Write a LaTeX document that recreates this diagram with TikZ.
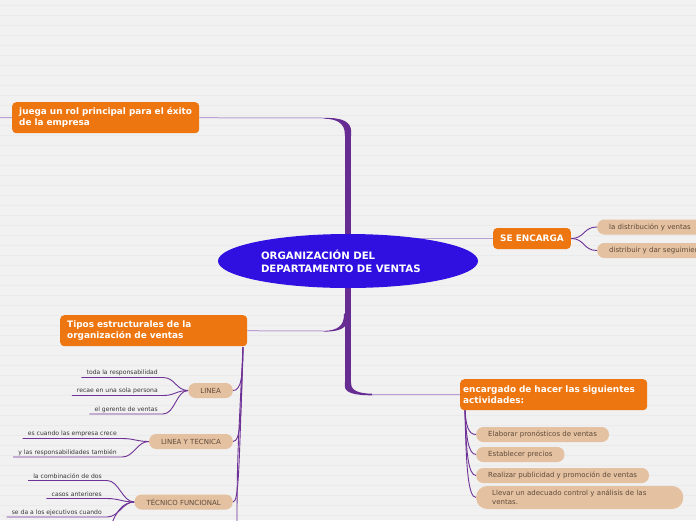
\documentclass[tikz,border=0pt]{standalone}
\usepackage{fontspec}
\setmainfont{DejaVu Sans}
\usetikzlibrary{shapes.geometric}
\pgfdeclarelayer{paper}
\pgfdeclarelayer{wires}
\pgfsetlayers{paper,wires,main}

\begin{document}
\begin{tikzpicture}[x=1pt, y=-1pt,
  topic/.style={fill=topicfill, text=white, rounded corners=4pt, anchor=north west,
    font=\fontsize{8.9}{11}\selectfont\bfseries, align=left, text width=173pt,
    inner xsep=7pt, inner ysep=0pt, minimum height=31pt},
  tag/.style={fill=topicfill, text=white, rounded corners=4pt, anchor=west,
    font=\fontsize{8.9}{11}\selectfont\bfseries, inner xsep=7pt, minimum height=21pt},
  hub/.style={ellipse, fill=hubfill, text=white, minimum width=260pt, minimum height=54pt,
    font=\fontsize{10.2}{13}\selectfont\bfseries, align=left, text width=174pt, inner sep=0pt},
  pill/.style={fill=pillfill, text=pilltext, rounded corners=7pt, minimum height=15pt,
    inner xsep=12pt, inner ysep=0pt, font=\fontsize{7}{9}\selectfont},
  leaf/.style={text=leaftext, anchor=south east, inner xsep=5pt, inner ysep=1.5pt,
    font=\fontsize{6.1}{7}\selectfont},
  trunk/.style={draw=trunkcol, line width=6.5pt},
  twig/.style={draw=twigcol, line width=1pt},
  vine/.style={draw=vinecol, line width=0.9pt}]
\definecolor{paperbg}{RGB}{241,241,241}
\definecolor{stripe}{RGB}{234,234,234}
\definecolor{topicfill}{RGB}{238,118,17}
\definecolor{hubfill}{RGB}{48,16,224}
\definecolor{pillfill}{RGB}{228,193,160}
\definecolor{pilltext}{RGB}{95,75,60}
\definecolor{leaftext}{RGB}{55,55,55}
\definecolor{trunkcol}{RGB}{102,44,145}
\definecolor{twigcol}{RGB}{185,160,210}
\definecolor{vinecol}{RGB}{110,50,150}

\useasboundingbox (0,0) rectangle (696,520);

% ---- PAPER ----
\begin{pgfonlayer}{paper}
\fill[paperbg] (0,0) rectangle (696,520);
\foreach \y in {5,15,...,515}
  \draw[stripe, line width=1pt] (0,\y) -- (696,\y);
\end{pgfonlayer}

% Central idea
\node[hub] (ctr) at (348,261) {ORGANIZACIÓN DEL\\DEPARTAMENTO DE VENTAS};

% Main topics
\node[topic] (rol) at (12,102) {juega un rol principal para el éxito\\de la empresa};
\node[topic] (tipos) at (60,315) {Tipos estructurales de la\\organización de ventas};
\node[topic, text width=181pt, inner xsep=3pt] (act) at (460,379)
  {encargado de hacer las siguientes\\actividades:};
\node[tag] (enc) at (493,238.5) {SE ENCARGA};

% SE ENCARGA
\node[pill, anchor=west] (dist) at (597,227) {la distribución y ventas};
\node[pill, anchor=west] (segu) at (597,250.5) {distribuir y dar seguimiento};

% Tipos estructurales
\node[pill, anchor=east] (lin) at (233,390.5) {LINEA};
\node[pill, anchor=east] (lyt) at (233,441.5) {LINEA Y TECNICA};
\node[pill, anchor=east] (tec) at (233,502) {TÉCNICO FUNCIONAL};

\node[leaf] (l1) at (163,377.5) {toda la responsabilidad};
\node[leaf] (l2) at (163,395.5) {recae en una sola persona};
\node[leaf] (l3) at (163,414) {el gerente de ventas};
\node[leaf] (l4) at (122,438.5) {es cuando las empresa crece};
\node[leaf] (l5) at (122,457) {y las responsabilidades también};
\node[leaf] (l6) at (107,480.5) {la combinación de dos};
\node[leaf] (l7) at (107,498.5) {casos anteriores};
\node[leaf] (l8) at (107,517) {se da a los ejecutivos cuando};

% Actividades
\node[pill, anchor=west] (a1) at (476,434.5) {Elaborar pronósticos de ventas};
\node[pill, anchor=west] (a2) at (476,454.5) {Establecer precios};
\node[pill, anchor=west] (a3) at (476,475.5) {Realizar publicidad y promoción de ventas};
\node[pill, anchor=west, align=left, text width=175pt, inner xsep=16pt,
  minimum height=23pt, rounded corners=11pt] (a4) at (476,497.5)
  {Llevar un adecuado control y análisis de las\\ventas.};

% Free ends and joints
\coordinate (kTop) at (348,134);
\coordinate (kBot) at (348,384);
\coordinate (jTop) at (324,118);
\coordinate (jMid) at (324,331);
\coordinate (jBot) at (372,394.5);
\coordinate (offL) at (0,117.5);
\coordinate (tSrc) at (243,347);
\coordinate (tOff) at (237,523);
\coordinate (fOff) at (112,523);
\coordinate (aSrc) at (465,410);

% ---- CONNECTORS ----
\begin{pgfonlayer}{wires}
% trunk and its tapered bends
\draw[trunk] (kTop) -- (kBot);
\fill[trunkcol] (351.2,136) -- (351.2,132) .. controls (351.2,122) and (343,117.4) .. (jTop)
  -- (324,118.6) .. controls (338,119) and (344.8,124) .. (344.8,134) -- (344.8,136) -- cycle;
\fill[trunkcol] (347,312) -- (347,320) .. controls (347,328) and (340,331.6) .. (324,331.6)
  -- (jMid) .. controls (338,330.2) and (344,326) .. (344,314) -- cycle;
\fill[trunkcol] (344.8,382) -- (344.8,386) .. controls (344.8,393) and (355,395.3) .. (372,395.3)
  -- (372,393.7) .. controls (360,393.5) and (351.2,391) .. (351.2,384) -- (351.2,382) -- cycle;
\draw[twig] (jTop) -- (rol.east);
\draw[twig] (rol.west) -- (offL);
\draw[twig] (jMid) -- (tipos.east);
\draw[twig] (jBot) -- (act.west);
\draw[twig] (ctr.center |- enc.west) -- (enc.west);

\draw[vine] (enc.east) .. controls +(14,0) and +(-14,0) .. (dist.west);
\draw[vine] (enc.east) .. controls +(14,0) and +(-14,0) .. (segu.west);

\draw[vine] (tSrc) .. controls +(0,30) and +(8,0) .. (lin.east);
\draw[vine] (tSrc) .. controls +(-2,70) and +(8,0) .. (lyt.east);
\draw[vine] (tSrc) .. controls +(-4,120) and +(6,0) .. (tec.east);
\draw[vine] (tSrc) .. controls +(-5,100) and +(0,-60) .. (tOff);

\draw[vine] (lin.west) .. controls +(-12,0) and +(12,0) .. (l1.south east) -- (l1.south west);
\draw[vine] (lin.west) .. controls +(-12,0) and +(12,0) .. (l2.south east) -- (l2.south west);
\draw[vine] (lin.west) .. controls +(-12,0) and +(12,0) .. (l3.south east) -- (l3.south west);
\draw[vine] (lyt.west) .. controls +(-12,0) and +(12,0) .. (l4.south east) -- (l4.south west);
\draw[vine] (lyt.west) .. controls +(-12,0) and +(12,0) .. (l5.south east) -- (l5.south west);
\draw[vine] (tec.west) .. controls +(-12,0) and +(12,0) .. (l6.south east) -- (l6.south west);
\draw[vine] (tec.west) .. controls +(-12,0) and +(12,0) .. (l7.south east) -- (l7.south west);
\draw[vine] (tec.west) .. controls +(-12,0) and +(12,0) .. (l8.south east) -- (l8.south west);
\draw[vine] (tec.west) .. controls +(-12,0) and +(4,-10) .. (fOff);

\draw[vine] (aSrc) .. controls +(1,15) and +(-8,0) .. (a1.west);
\draw[vine] (aSrc) .. controls +(1,25) and +(-8,0) .. (a2.west);
\draw[vine] (aSrc) .. controls +(1,40) and +(-8,0) .. (a3.west);
\draw[vine] (aSrc) .. controls +(1,55) and +(-8,0) .. (a4.west);
\end{pgfonlayer}

\end{tikzpicture}
\end{document}
